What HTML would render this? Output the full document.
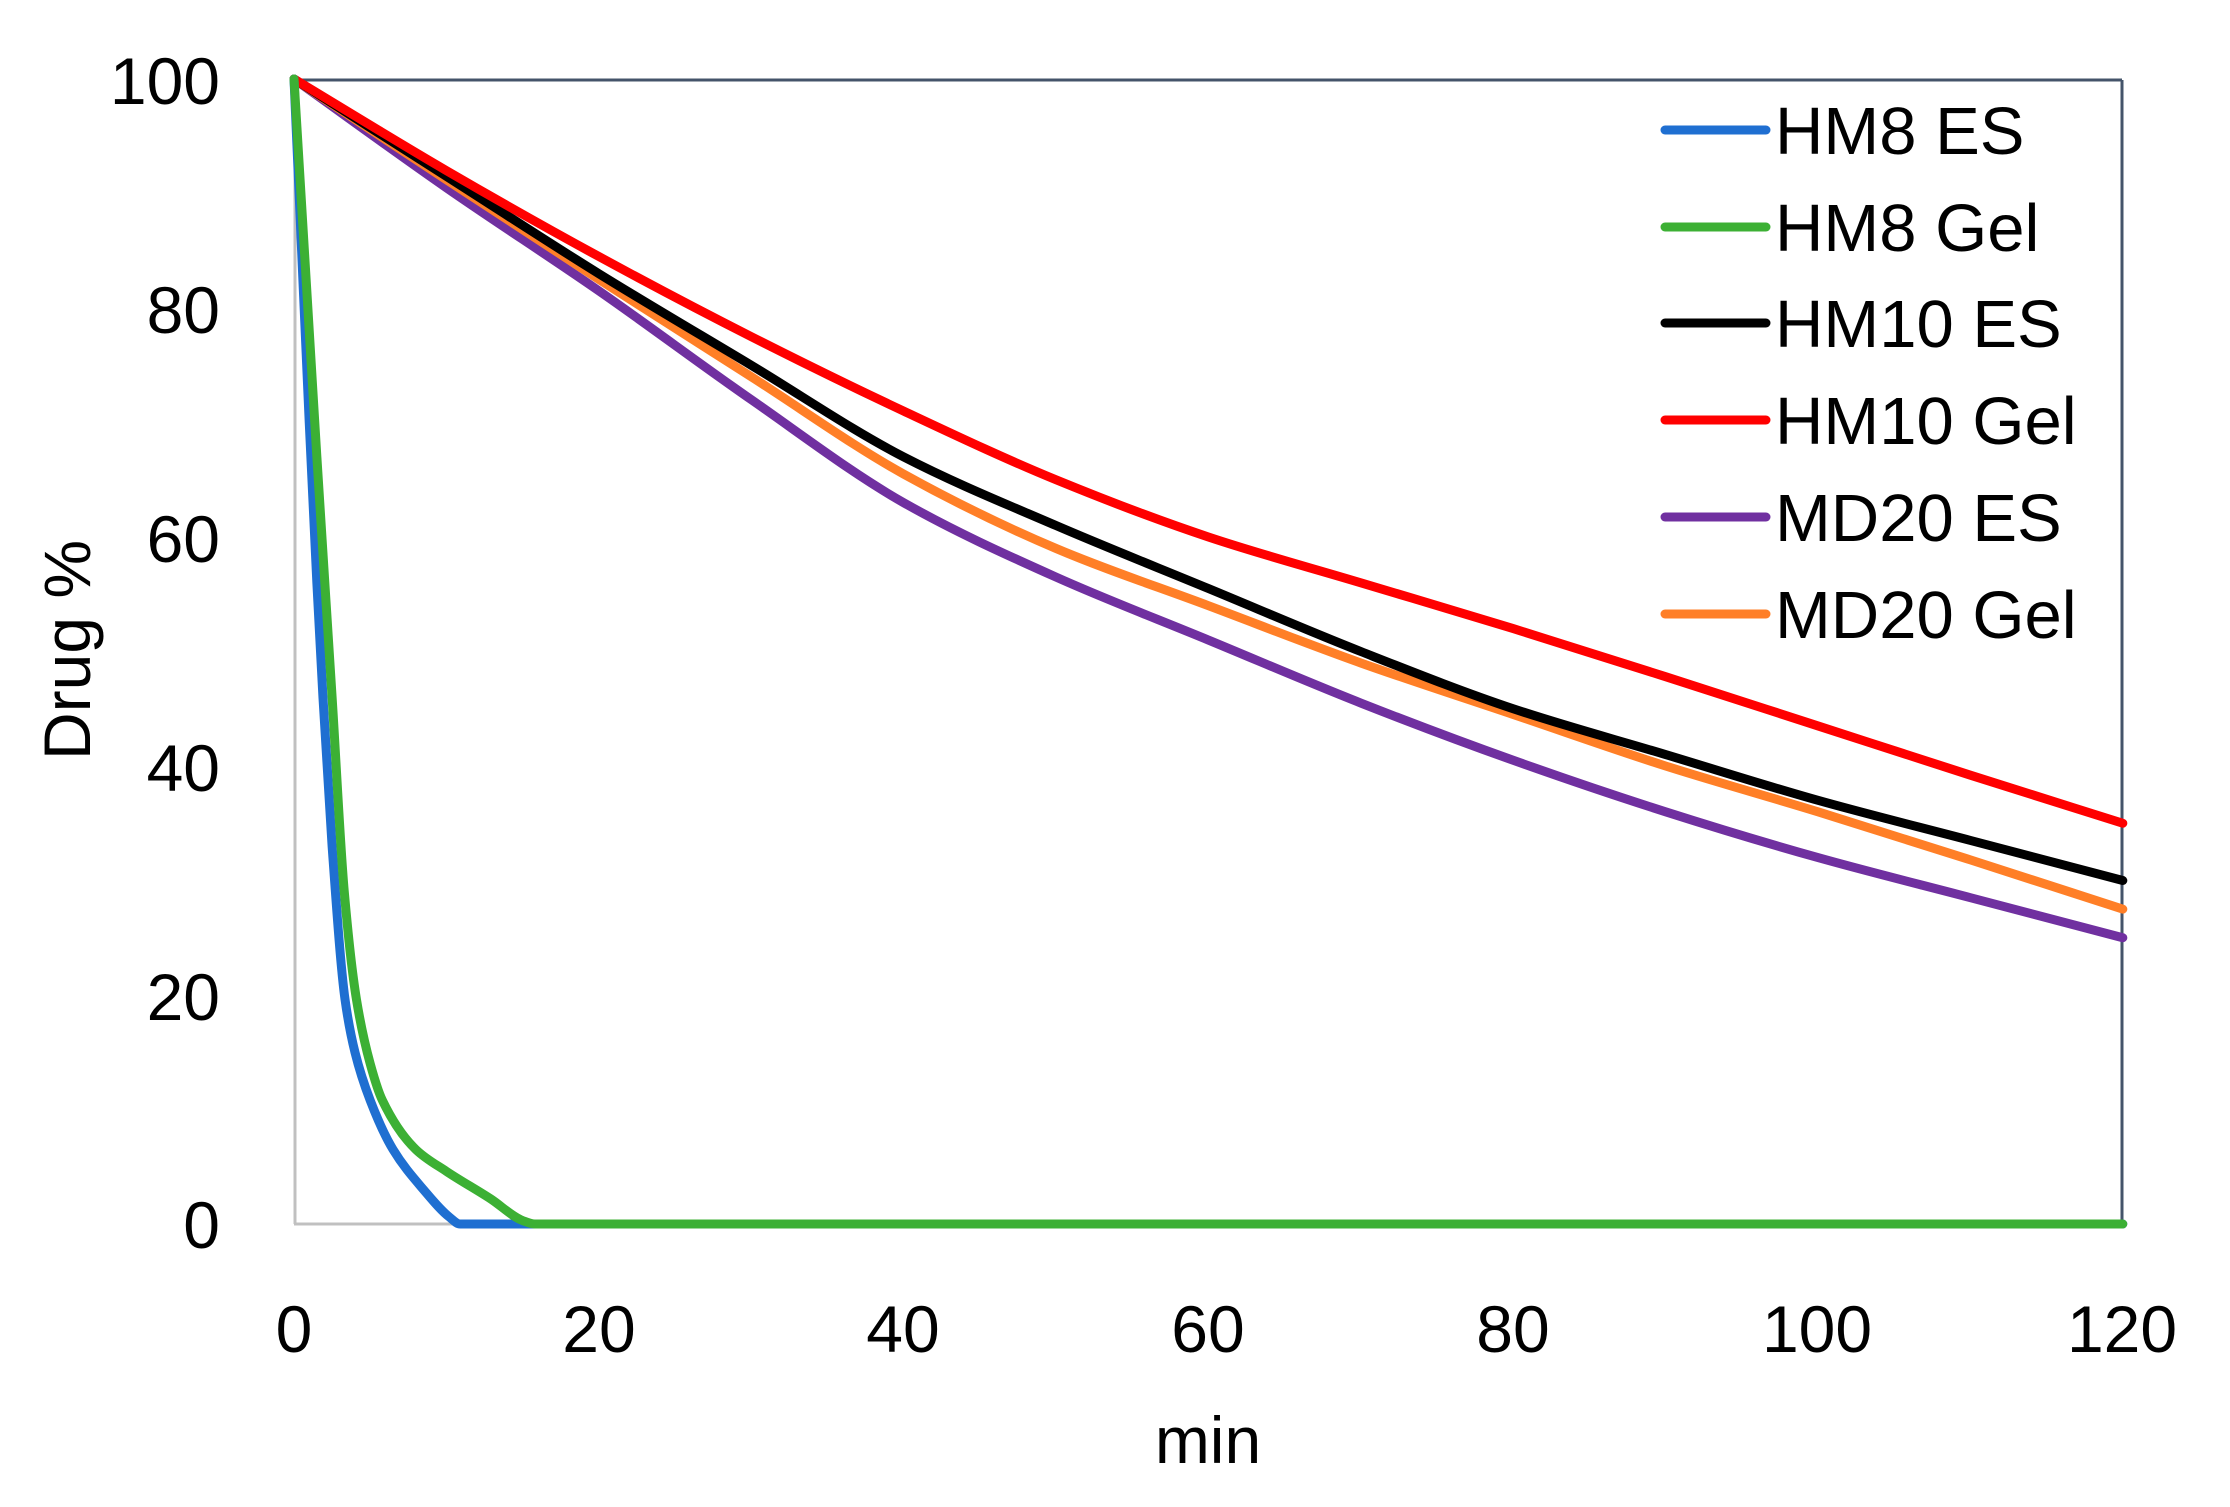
<!DOCTYPE html>
<html><head><meta charset="utf-8"><style>
html,body{margin:0;padding:0;background:#fff;}
svg{display:block;}
text{font-family:"Liberation Sans",sans-serif;fill:#000;}
</style></head><body>
<svg id="s" width="2230" height="1507" viewBox="0 0 2230 1507" xmlns="http://www.w3.org/2000/svg">
<rect width="2230" height="1507" fill="#fff"/>
<line x1="294" y1="80" x2="2122" y2="80" stroke="#44546a" stroke-width="3"/>
<line x1="2122" y1="80" x2="2122" y2="1224" stroke="#44546a" stroke-width="3"/>
<line x1="295" y1="80" x2="295" y2="1224" stroke="#c0c0c0" stroke-width="3"/>
<line x1="294" y1="1224" x2="2122" y2="1224" stroke="#c0c0c0" stroke-width="3"/>
<g font-size="66" text-anchor="end">
<text x="220" y="104">100</text>
<text x="220" y="333">80</text>
<text x="220" y="562">60</text>
<text x="220" y="791">40</text>
<text x="220" y="1020">20</text>
<text x="220" y="1248">0</text>
</g>
<g font-size="66" text-anchor="middle">
<text x="294" y="1352">0</text>
<text x="599" y="1352">20</text>
<text x="903" y="1352">40</text>
<text x="1208" y="1352">60</text>
<text x="1513" y="1352">80</text>
<text x="1817" y="1352">100</text>
<text x="2122" y="1352">120</text>
<text x="1208" y="1463">min</text>
</g>
<text font-size="66" text-anchor="middle" transform="translate(90,650) rotate(-90)">Drug %</text>
<g id="curves" fill="none" stroke-width="9" stroke-linejoin="round" stroke-linecap="round"></g>
<g stroke-width="9" stroke-linecap="round">
<line x1="1665" y1="130" x2="1766" y2="130" stroke="#1f6fd1"/>
<line x1="1665" y1="227" x2="1766" y2="227" stroke="#3cb034"/>
<line x1="1665" y1="323" x2="1766" y2="323" stroke="#000"/>
<line x1="1665" y1="420" x2="1766" y2="420" stroke="#ff0000"/>
<line x1="1665" y1="517" x2="1766" y2="517" stroke="#7030a0"/>
<line x1="1665" y1="614" x2="1766" y2="614" stroke="#ff7f27"/>
</g>
<g font-size="67">
<text x="1775" y="154">HM8 ES</text>
<text x="1775" y="251">HM8 Gel</text>
<text x="1775" y="347">HM10 ES</text>
<text x="1775" y="444">HM10 Gel</text>
<text x="1775" y="541">MD20 ES</text>
<text x="1775" y="638">MD20 Gel</text>
</g>
</svg>
<script>
var X=function(t){return 294+t*15.24;},Y=function(v){return 1224-v*11.45;};
var series=[
["#7030a0",[[0,100],[10,90.5],[20,81.5],[30,72],[40,63],[50,56.5],[60,51],[70,45.5],[80,40.5],[90,36],[100,32],[110,28.5],[120,25]]],
["#ff7f27",[[0,100],[10,91.2],[20,82.5],[30,74],[40,65.5],[50,59],[60,54],[70,49],[80,44.5],[90,40],[100,36],[110,31.8],[120,27.5]]],
["#000",[[0,100],[10,91.5],[20,83],[30,75],[40,67],[50,61],[60,55.5],[70,50],[80,45],[90,41],[100,37],[110,33.5],[120,30]]],
["#ff0000",[[0,100],[10,92],[20,84.5],[30,77.5],[40,71],[50,65],[60,60],[70,56],[80,52],[90,47.8],[100,43.5],[110,39.2],[120,35]]],
["#1f6fd1",[[0,100],[0.5,85],[1,70],[1.5,56],[1.9,46],[2.5,33],[3.35,19.6],[4,15],[5,10.8],[6.5,6.5],[8.5,3],[10.2,0.6],[10.9,0],[20,0],[120,0]]],
["#3cb034",[[0,100],[0.5,89],[1,78],[1.5,67],[2.5,46],[3.3,29],[4.1,19.6],[5,14],[5.8,10.8],[8,6.5],[10,4.6],[12.9,2.2],[15,0.3],[15.8,0],[20,0],[120,0]]]
];
var g=document.getElementById('curves');
series.forEach(function(s){
  var p=s[1].map(function(a){return [X(a[0]),Y(a[1])];});
  var n=p.length,dl=[],m=[];
  for(var i=0;i<n-1;i++)dl.push((p[i+1][1]-p[i][1])/(p[i+1][0]-p[i][0]));
  m[0]=dl[0];m[n-1]=dl[n-2];
  for(var i=1;i<n-1;i++){
    if(dl[i-1]*dl[i]<=0)m[i]=0;
    else{var h0=p[i][0]-p[i-1][0],h1=p[i+1][0]-p[i][0];
      var w1=2*h1+h0,w2=h1+2*h0;m[i]=(w1+w2)/(w1/dl[i-1]+w2/dl[i]);}
  }
  var d="M"+p[0][0]+","+p[0][1];
  for(var i=0;i<n-1;i++){
    var h=(p[i+1][0]-p[i][0])/3;
    d+=" C"+(p[i][0]+h)+","+(p[i][1]+m[i]*h)+" "+(p[i+1][0]-h)+","+(p[i+1][1]-m[i+1]*h)+" "+p[i+1][0]+","+p[i+1][1];
  }
  var e=document.createElementNS("http://www.w3.org/2000/svg","path");
  e.setAttribute("d",d);e.setAttribute("stroke",s[0]);g.appendChild(e);
});
</script>
</body></html>
